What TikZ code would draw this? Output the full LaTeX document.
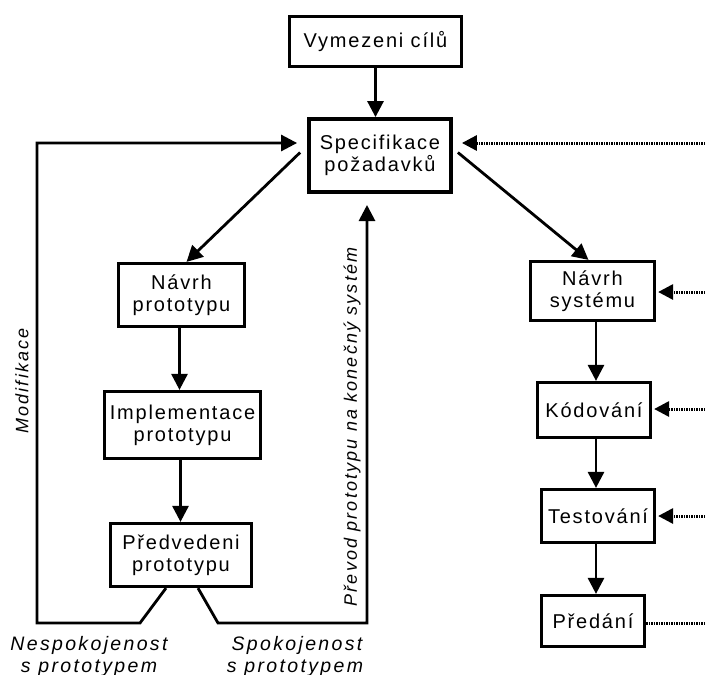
\documentclass[tikz,border=0pt]{standalone}
\usepackage{fontspec}
\setmainfont{Liberation Sans}[LetterSpace=9]
\newfontfamily\lblfont{Liberation Sans}[LetterSpace=12]
\usetikzlibrary{arrows.meta}
\tikzset{
  box/.style={draw, line width=3.2pt, inner sep=0pt, align=center,
    font=\fontsize{20}{22}\selectfont},
  arr/.style={line width=2.8pt, -{Triangle[length=16pt,width=16pt]}},
  dots/.style={line width=3pt, dash pattern=on 1.5pt off 1pt},
  dotarr/.style={dots, -{Triangle[length=15pt,width=15pt]}},
  lbl/.style={font=\fontsize{19.5}{22}\lblfont\itshape, align=center, inner sep=0pt},
  vlbl/.style={font=\fontsize{18}{22}\lblfont\itshape, inner sep=0pt, rotate=90}
}
\begin{document}
\begin{tikzpicture}[x=1pt,y=-1pt]
\useasboundingbox (0,0) rectangle (705,675);
% boxes
\node[box, minimum width=172pt, minimum height=50pt] (vym) at (375.5,41.5) {Vymezeni cílů};
\node[box, line width=3.8pt, minimum width=142pt, minimum height=73pt] (spec) at (380,155.5) {Specifikace\\požadavků};
\node[box, minimum width=126pt, minimum height=63pt] (navp) at (181.5,295) {Návrh\\prototypu};
\node[box, minimum width=156pt, minimum height=67pt] (impl) at (182.5,425) {Implementace\\prototypu};
\node[box, minimum width=141pt, minimum height=63pt] (pred) at (181,555) {Předvedeni\\prototypu};
\node[box, minimum width=124pt, minimum height=59pt] (navs) at (592.5,291) {Návrh\\systému};
\node[box, minimum width=113pt, minimum height=55pt] (kod) at (594,410) {Kódování};
\node[box, minimum width=113pt, minimum height=53pt] (test) at (598,516) {Testování};
\node[box, minimum width=103pt, minimum height=51pt] (preda) at (593,621) {Předání};
% coordinates
\coordinate (lb1) at (140,623);
\coordinate (lb2) at (37,623);
\coordinate (lt) at (37,143);
\coordinate (rb1) at (218,623);
\coordinate (rb2) at (367,623);
\coordinate (rt) at (367,205);
\coordinate (e0) at (705,143);
\coordinate (e1) at (705,292);
\coordinate (e2) at (705,409);
\coordinate (e3) at (705,516);
\coordinate (e4) at (705,623);
% main arrows
\draw[arr] (vym.south) -- (vym.south |- spec.north);
\draw[arr] ([xshift=-7pt,yshift=3pt]spec.west) -- ([xshift=5pt]navp.north);
\draw[arr] ([xshift=5pt,yshift=3pt]spec.east) -- ([xshift=-4pt]navs.north);
\draw[arr] ([xshift=-2pt]navp.south) -- ([xshift=-2pt]navp.south |- impl.north);
\draw[arr] ([xshift=-2pt]impl.south) -- ([xshift=-2pt]impl.south |- pred.north);
\draw[arr] ([xshift=3.5pt]navs.south) -- ([xshift=3.5pt]navs.south |- kod.north);
\draw[arr] ([xshift=2pt]kod.south) -- ([xshift=2pt]kod.south |- test.north);
\draw[arr] ([xshift=-2pt]test.south) -- ([xshift=-2pt]test.south |- preda.north);
% loops
\draw[arr] ([xshift=-15pt]pred.south) -- (lb1) -- (lb2) -- (lt) -- ([xshift=-10pt] spec.west |- lt);
\draw[arr] ([xshift=17pt]pred.south) -- (rb1) -- (rb2) -- (rt);
% dotted inputs
\draw[dotarr] (e0) -- ([xshift=9pt]spec.east |- e0);
\draw[dotarr] (e1) -- ([xshift=2pt]navs.east |- e1);
\draw[dotarr] (e2) -- ([xshift=2pt]kod.east |- e2);
\draw[dotarr] (e3) -- ([xshift=2pt]test.east |- e3);
\draw[dots] (preda.east |- e4) -- (e4);
% labels
\node[vlbl] (modif) at (22,381) {Modifikace};
\node[vlbl] (prevod) at (352,427) {Převod prototypu na konečný systém};
\node[lbl, anchor=base] (nesp1) at (89,650) {Nespokojenost};
\node[lbl, anchor=base] (nesp2) at (89,672) {s prototypem};
\node[lbl, anchor=base] (spok1) at (297,650) {Spokojenost};
\node[lbl, anchor=base] (spok2) at (295,672) {s prototypem};
\end{tikzpicture}
\end{document}
